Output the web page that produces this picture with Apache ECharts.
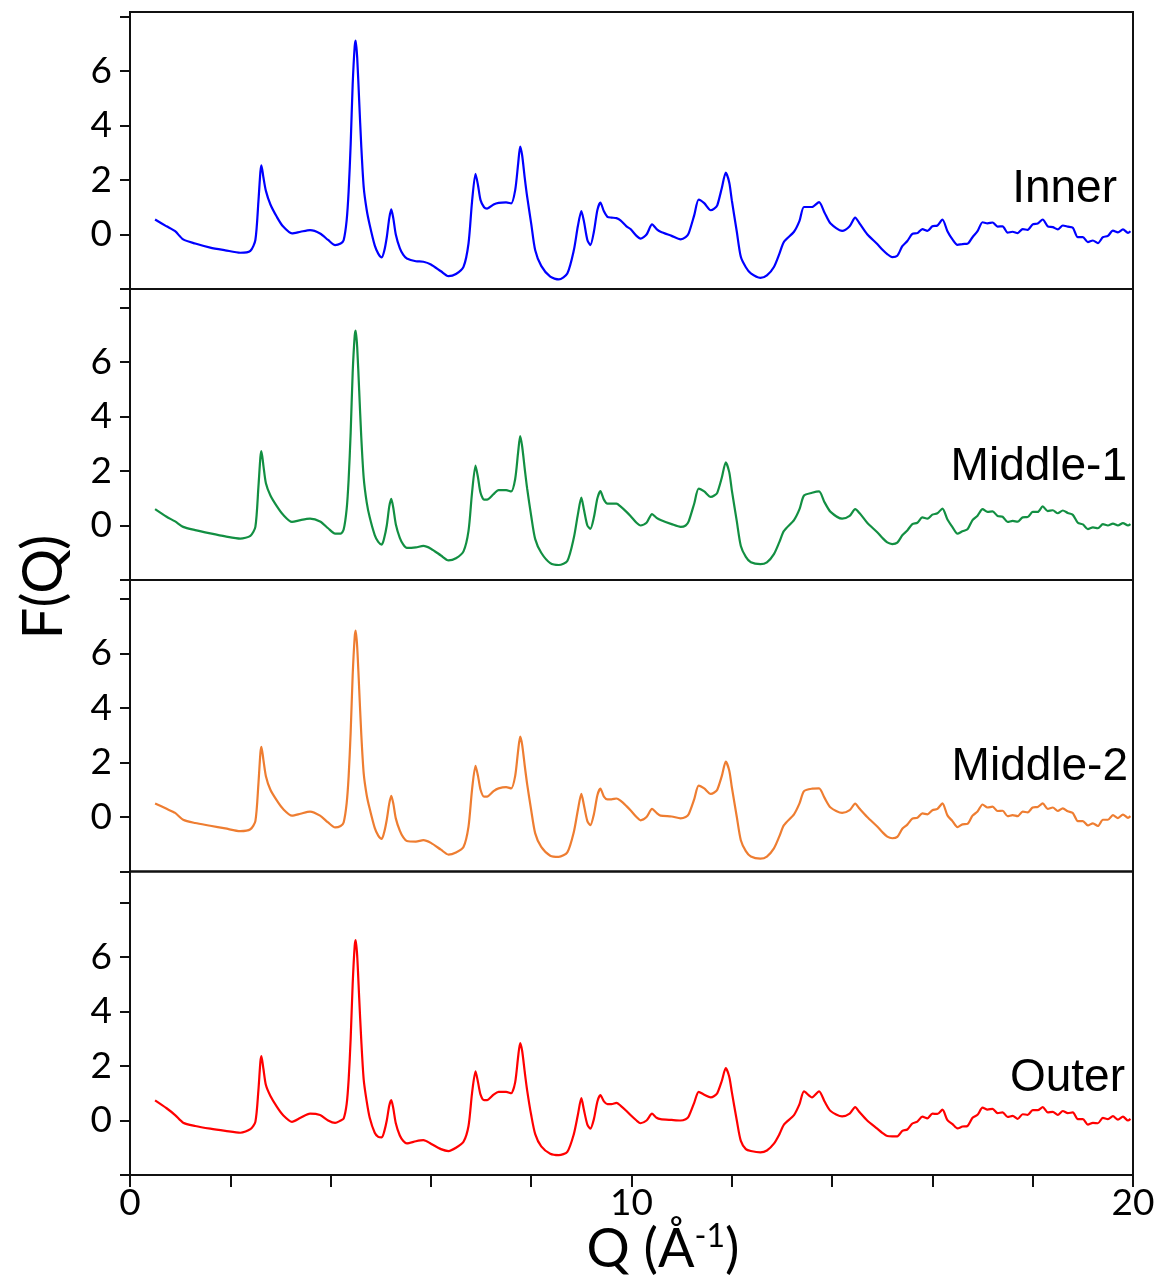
<!DOCTYPE html>
<html><head><meta charset="utf-8">
<script src="https://cdn.jsdelivr.net/npm/echarts@6/dist/echarts.min.js"></script>
<style>html,body{margin:0;padding:0;background:#fff}#c{width:1168px;height:1285px}</style>
</head><body><div id="c"></div>
<script>
// Q grid (Å^-1), shared by all four curves
const Q = [
  0.5, 0.73, 0.9, 1.06, 1.3, 1.6, 1.9, 2.2, 2.4, 2.5,
  2.56, 2.6, 2.62, 2.66, 2.71, 2.8, 2.93, 3.05, 3.23, 3.4,
  3.59, 3.79, 3.95, 4.09, 4.2, 4.26, 4.32, 4.36, 4.4, 4.44,
  4.48, 4.5, 4.53, 4.57, 4.61, 4.66, 4.72, 4.78, 4.88, 4.95,
  5.02, 5.07, 5.12, 5.17, 5.21, 5.25, 5.3, 5.38, 5.45, 5.52,
  5.7, 5.85, 6.0, 6.2, 6.35, 6.5, 6.65, 6.75, 6.82, 6.89,
  6.94, 6.99, 7.06, 7.12, 7.25, 7.35, 7.5, 7.6, 7.68, 7.74,
  7.78, 7.82, 7.87, 7.92, 8.0, 8.08, 8.2, 8.38, 8.55, 8.72,
  8.85, 8.93, 9.0, 9.05, 9.12, 9.18, 9.25, 9.32, 9.38, 9.45,
  9.52, 9.6, 9.7, 9.78, 9.9, 9.98, 10.1, 10.18, 10.3, 10.41,
  10.5, 10.58, 10.8, 10.98, 11.08, 11.14, 11.25, 11.34, 11.45, 11.58,
  11.65, 11.71, 11.8, 11.88, 11.95, 12.0, 12.1, 12.18, 12.28, 12.38,
  12.57, 12.7, 12.84, 12.95, 13.04, 13.24, 13.35, 13.44, 13.6, 13.74,
  13.85, 13.97, 14.2, 14.35, 14.46, 14.55, 14.7, 14.9,
  15.0, 15.1, 15.2, 15.3, 15.4, 15.5, 15.6, 15.7, 15.8, 15.9,
  16.0, 16.1, 16.2, 16.3, 16.4, 16.5, 16.6, 16.7, 16.8, 16.9,
  17.0, 17.1, 17.2, 17.3, 17.4, 17.5, 17.6, 17.7, 17.8, 17.9,
  18.0, 18.1, 18.2, 18.3, 18.4, 18.5, 18.6, 18.7, 18.8, 18.9,
  19.0, 19.1, 19.2, 19.3, 19.4, 19.5, 19.6, 19.7, 19.8, 19.9,
  19.95
];
const inner = [
  0.55, 0.30, 0.12, -0.18, -0.33, -0.48, -0.58, -0.67, -0.6, -0.2,
  1.2, 2.3, 2.54, 2.1, 1.6, 1.1, 0.64, 0.3, 0.04, 0.1,
  0.16, 0.04, -0.2, -0.39, -0.33, -0.21, 0.52, 1.6, 3.3, 5.5,
  6.9, 7.12, 6.5, 4.9, 3.3, 1.74, 0.9, 0.35, -0.4, -0.7,
  -0.84, -0.6, -0.1, 0.6, 0.92, 0.6, 0.0, -0.5, -0.75, -0.88,
  -0.98, -1.0, -1.1, -1.35, -1.53, -1.45, -1.19, -0.33, 1.2, 2.23,
  1.8, 1.26, 1.0, 0.95, 1.1, 1.16, 1.18, 1.14, 1.62, 2.6,
  3.23, 2.9, 2.1, 1.38, 0.4, -0.58, -1.15, -1.55, -1.65, -1.43,
  -0.58, 0.3, 0.86, 0.5, -0.2, -0.39, 0.1, 0.9, 1.17, 0.85,
  0.65, 0.62, 0.6, 0.52, 0.3, 0.2, -0.05, -0.15, 0.0, 0.37,
  0.2, 0.1, -0.05, -0.18, -0.1, 0.04, 0.7, 1.28, 1.15, 0.89,
  0.95, 1.07, 1.7, 2.27, 1.9, 1.26, 0.1, -0.82, -1.2, -1.43,
  -1.59, -1.5, -1.19, -0.7, -0.27, 0.1, 0.5, 1.01, 1.01, 1.19,
  0.8, 0.4, 0.13, 0.3, 0.62, 0.4, 0.01, -0.35,
  -0.55, -0.72, -0.83, -0.78, -0.43, -0.24, 0.02, 0.05, 0.2, 0.13,
  0.3, 0.33, 0.55, 0.12, -0.18, -0.38, -0.35, -0.34, -0.1, 0.12,
  0.45, 0.41, 0.44, 0.29, 0.3, 0.07, 0.1, 0.05, 0.2, 0.17,
  0.37, 0.4, 0.55, 0.3, 0.27, 0.19, 0.33, 0.29, 0.25, -0.1,
  -0.1, -0.28, -0.22, -0.32, -0.1, -0.05, 0.14, 0.08, 0.19, 0.06,
  0.12
];
const middle1 = [
  0.6, 0.32, 0.15, -0.05, -0.17, -0.29, -0.4, -0.48, -0.38, -0.05,
  1.4, 2.5, 2.73, 2.2, 1.55, 1.1, 0.7, 0.4, 0.13, 0.2,
  0.25, 0.15, -0.1, -0.3, -0.3, -0.15, 0.6, 1.7, 3.4, 5.6,
  6.95, 7.15, 6.55, 4.95, 3.3, 1.75, 0.85, 0.3, -0.35, -0.6,
  -0.7, -0.45, 0.0, 0.7, 0.98, 0.65, 0.05, -0.45, -0.7, -0.82,
  -0.8, -0.75, -0.85, -1.1, -1.28, -1.2, -0.95, -0.2, 1.2, 2.2,
  1.75, 1.2, 0.95, 0.95, 1.15, 1.3, 1.3, 1.25, 1.7, 2.7,
  3.28, 2.9, 2.1, 1.35, 0.35, -0.5, -1.0, -1.38, -1.45, -1.3,
  -0.45, 0.4, 1.02, 0.6, 0.0, -0.12, 0.3, 1.0, 1.26, 0.95,
  0.8, 0.8, 0.8, 0.7, 0.5, 0.35, 0.1, 0.0, 0.1, 0.42,
  0.28, 0.2, 0.05, -0.05, 0.0, 0.15, 0.8, 1.35, 1.25, 1.05,
  1.1, 1.2, 1.75, 2.32, 1.95, 1.3, 0.15, -0.75, -1.15, -1.35,
  -1.42, -1.35, -1.05, -0.6, -0.2, 0.2, 0.6, 1.1, 1.2, 1.25,
  0.85, 0.5, 0.25, 0.35, 0.6, 0.45, 0.1, -0.25,
  -0.45, -0.62, -0.68, -0.63, -0.36, -0.18, 0.05, 0.1, 0.3, 0.25,
  0.4, 0.45, 0.62, 0.22, -0.06, -0.3, -0.21, -0.14, 0.2, 0.36,
  0.6, 0.5, 0.52, 0.35, 0.32, 0.13, 0.17, 0.14, 0.3, 0.31,
  0.5, 0.5, 0.7, 0.53, 0.56, 0.45, 0.55, 0.46, 0.39, 0.1,
  0.04, -0.13, -0.07, -0.1, 0.05, 0.0, 0.07, 0.0, 0.09, 0.0,
  0.05
];
const middle2 = [
  0.5, 0.3, 0.15, -0.1, -0.22, -0.32, -0.42, -0.52, -0.45, -0.15,
  1.2, 2.35, 2.58, 2.1, 1.5, 1.0, 0.6, 0.3, 0.05, 0.12,
  0.2, 0.05, -0.2, -0.38, -0.33, -0.2, 0.5, 1.5, 3.1, 5.2,
  6.6, 6.84, 6.25, 4.7, 3.1, 1.6, 0.8, 0.3, -0.4, -0.68,
  -0.8, -0.55, -0.1, 0.5, 0.78, 0.5, -0.05, -0.5, -0.75, -0.88,
  -0.9, -0.85, -0.95, -1.2, -1.38, -1.3, -1.1, -0.35, 1.0, 1.88,
  1.5, 1.0, 0.75, 0.75, 0.95, 1.05, 1.1, 1.05, 1.5, 2.45,
  2.95, 2.65, 1.9, 1.2, 0.25, -0.6, -1.1, -1.42, -1.46, -1.3,
  -0.55, 0.25, 0.85, 0.45, -0.15, -0.3, 0.1, 0.8, 1.04, 0.75,
  0.65, 0.65, 0.68, 0.6, 0.4, 0.25, 0.0, -0.12, 0.0, 0.3,
  0.15, 0.05, 0.02, -0.05, 0.0, 0.1, 0.65, 1.15, 1.05, 0.85,
  0.9, 1.0, 1.5, 2.03, 1.7, 1.1, 0.0, -0.85, -1.25, -1.45,
  -1.53, -1.45, -1.15, -0.7, -0.3, 0.1, 0.5, 0.95, 1.04, 1.05,
  0.7, 0.35, 0.15, 0.25, 0.49, 0.3, 0.0, -0.35,
  -0.55, -0.72, -0.78, -0.73, -0.43, -0.28, -0.06, -0.03, 0.13, 0.1,
  0.25, 0.3, 0.5, 0.06, -0.15, -0.37, -0.27, -0.25, 0.05, 0.2,
  0.46, 0.35, 0.38, 0.22, 0.23, 0.03, 0.07, 0.03, 0.2, 0.17,
  0.35, 0.37, 0.5, 0.3, 0.35, 0.22, 0.32, 0.21, 0.15, -0.15,
  -0.15, -0.31, -0.23, -0.33, -0.1, -0.1, 0.07, -0.04, 0.09, -0.03,
  0.03
];
const outer = [
  0.74, 0.45, 0.2, -0.08, -0.2, -0.3, -0.38, -0.45, -0.32, -0.05,
  1.1, 2.15, 2.36, 1.9, 1.3, 0.9, 0.5, 0.2, -0.05, 0.1,
  0.25, 0.2, 0.0, -0.09, 0.0, 0.07, 0.6, 1.5, 3.0, 5.0,
  6.4, 6.62, 6.05, 4.5, 3.0, 1.5, 0.7, 0.1, -0.45, -0.6,
  -0.62, -0.4, 0.0, 0.55, 0.75, 0.45, -0.1, -0.55, -0.75, -0.84,
  -0.76, -0.72, -0.85, -1.05, -1.12, -1.0, -0.78, -0.2, 1.0, 1.8,
  1.4, 0.95, 0.75, 0.75, 0.95, 1.05, 1.05, 1.0, 1.4, 2.35,
  2.84, 2.55, 1.8, 1.1, 0.2, -0.5, -0.95, -1.22, -1.27, -1.15,
  -0.5, 0.2, 0.82, 0.4, -0.15, -0.3, 0.05, 0.7, 0.93, 0.7,
  0.6, 0.6, 0.65, 0.55, 0.35, 0.2, 0.0, -0.1, 0.0, 0.25,
  0.1, 0.05, 0.02, 0.0, 0.05, 0.15, 0.65, 1.05, 0.95, 0.85,
  0.9, 1.0, 1.45, 1.92, 1.6, 1.05, 0.0, -0.75, -1.05, -1.12,
  -1.17, -1.1, -0.85, -0.5, -0.15, 0.2, 0.6, 1.07, 0.85, 1.07,
  0.7, 0.35, 0.15, 0.25, 0.49, 0.3, 0.0, -0.3,
  -0.45, -0.57, -0.58, -0.58, -0.38, -0.33, -0.11, -0.04, 0.14, 0.08,
  0.25, 0.24, 0.4, 0.01, -0.13, -0.29, -0.22, -0.2, 0.1, 0.21,
  0.47, 0.4, 0.43, 0.27, 0.3, 0.13, 0.17, 0.06, 0.23, 0.21,
  0.38, 0.38, 0.49, 0.3, 0.32, 0.21, 0.35, 0.27, 0.3, 0.05,
  0.05, -0.15, -0.09, -0.1, 0.1, 0.05, 0.16, 0.03, 0.14, 0.0,
  0.06
];
const panelNames = ['Inner', 'Middle-1', 'Middle-2', 'Outer'];
const panelValues = [inner, middle1, middle2, outer];
const yTickValues = [-2, 0, 2, 4, 6, 8];
const yLabelValues = [0, 2, 4, 6];
const xLabelValues = [0, 10, 20];

// layout (pixels) and styling
const colors = ['#0000FF', '#128F42', '#EE7D31', '#FF0000'];
const tops = [12, 289, 580, 871.5];
const heights = [277, 291, 291.5, 303.5];
const yMax = [8.165, 8.68, 8.70, 9.14];
const labelPos = [[1117, 189], [1127, 467], [1128, 767], [1125, 1078]];
const AX = '#111';

const chart = echarts.init(document.getElementById('c'), null, {renderer: 'canvas'});
const grids = [], xAxes = [], yAxes = [], series = [], graphics = [];
for (let i = 0; i < 4; i++) {
  const last = i === 3;
  grids.push({left: 130, right: 35, top: tops[i], height: heights[i], show: true,
    borderColor: AX, borderWidth: 2, backgroundColor: 'transparent', containLabel: false});
  xAxes.push({type: 'value', gridIndex: i, min: 0, max: 20, interval: 2,
    axisLine: {show: last, onZero: false, lineStyle: {color: AX, width: 2}},
    axisTick: {show: last, length: 12, lineStyle: {color: AX, width: 2}},
    axisLabel: {show: last, customValues: xLabelValues, margin: 10, color: '#000',
      fontFamily: 'Lato', fontSize: 37},
    splitLine: {show: false}});
  yAxes.push({type: 'value', gridIndex: i, min: -2, max: yMax[i], interval: 2,
    axisLine: {show: true, lineStyle: {color: AX, width: 2}},
    axisTick: {show: true, length: 10, customValues: yTickValues, lineStyle: {color: AX, width: 2}},
    axisLabel: {show: true, customValues: yLabelValues, margin: 18, color: '#000',
      fontFamily: 'Lato', fontSize: 37},
    splitLine: {show: false}});
  series.push({type: 'line', name: panelNames[i], xAxisIndex: i, yAxisIndex: i,
    data: Q.map((q, k) => [q, panelValues[i][k]]),
    showSymbol: false, smooth: 0.25, animation: false,
    lineStyle: {color: colors[i], width: 2.2}, itemStyle: {color: colors[i]}});
  graphics.push({type: 'text', x: labelPos[i][0], y: labelPos[i][1],
    style: {text: panelNames[i], fill: '#000', font: '46px "Liberation Sans", Arial, sans-serif',
      textAlign: 'right', textVerticalAlign: 'middle'}});
}
graphics.push({type: 'text', x: 44, y: 587, rotation: Math.PI / 2,
  style: {text: 'F(Q)', fill: '#000', font: '56px Lato, sans-serif',
    textAlign: 'center', textVerticalAlign: 'middle'}});
graphics.push({type: 'text', x: 663, y: 1250,
  style: {text: '{a|Q (Å}{s|-1}{a|)}', textAlign: 'center', textVerticalAlign: 'middle',
    rich: {
      a: {fontFamily: 'Lato', fontSize: 54, fill: '#000', color: '#000', lineHeight: 60},
      s: {fontFamily: 'Lato', fontSize: 32, fill: '#000', color: '#000', lineHeight: 60, padding: [0, 0, 26, 0]}
    }}});

chart.setOption({
  animation: false,
  backgroundColor: '#fff',
  grid: grids, xAxis: xAxes, yAxis: yAxes, series: series, graphic: graphics
});
</script></body></html>
